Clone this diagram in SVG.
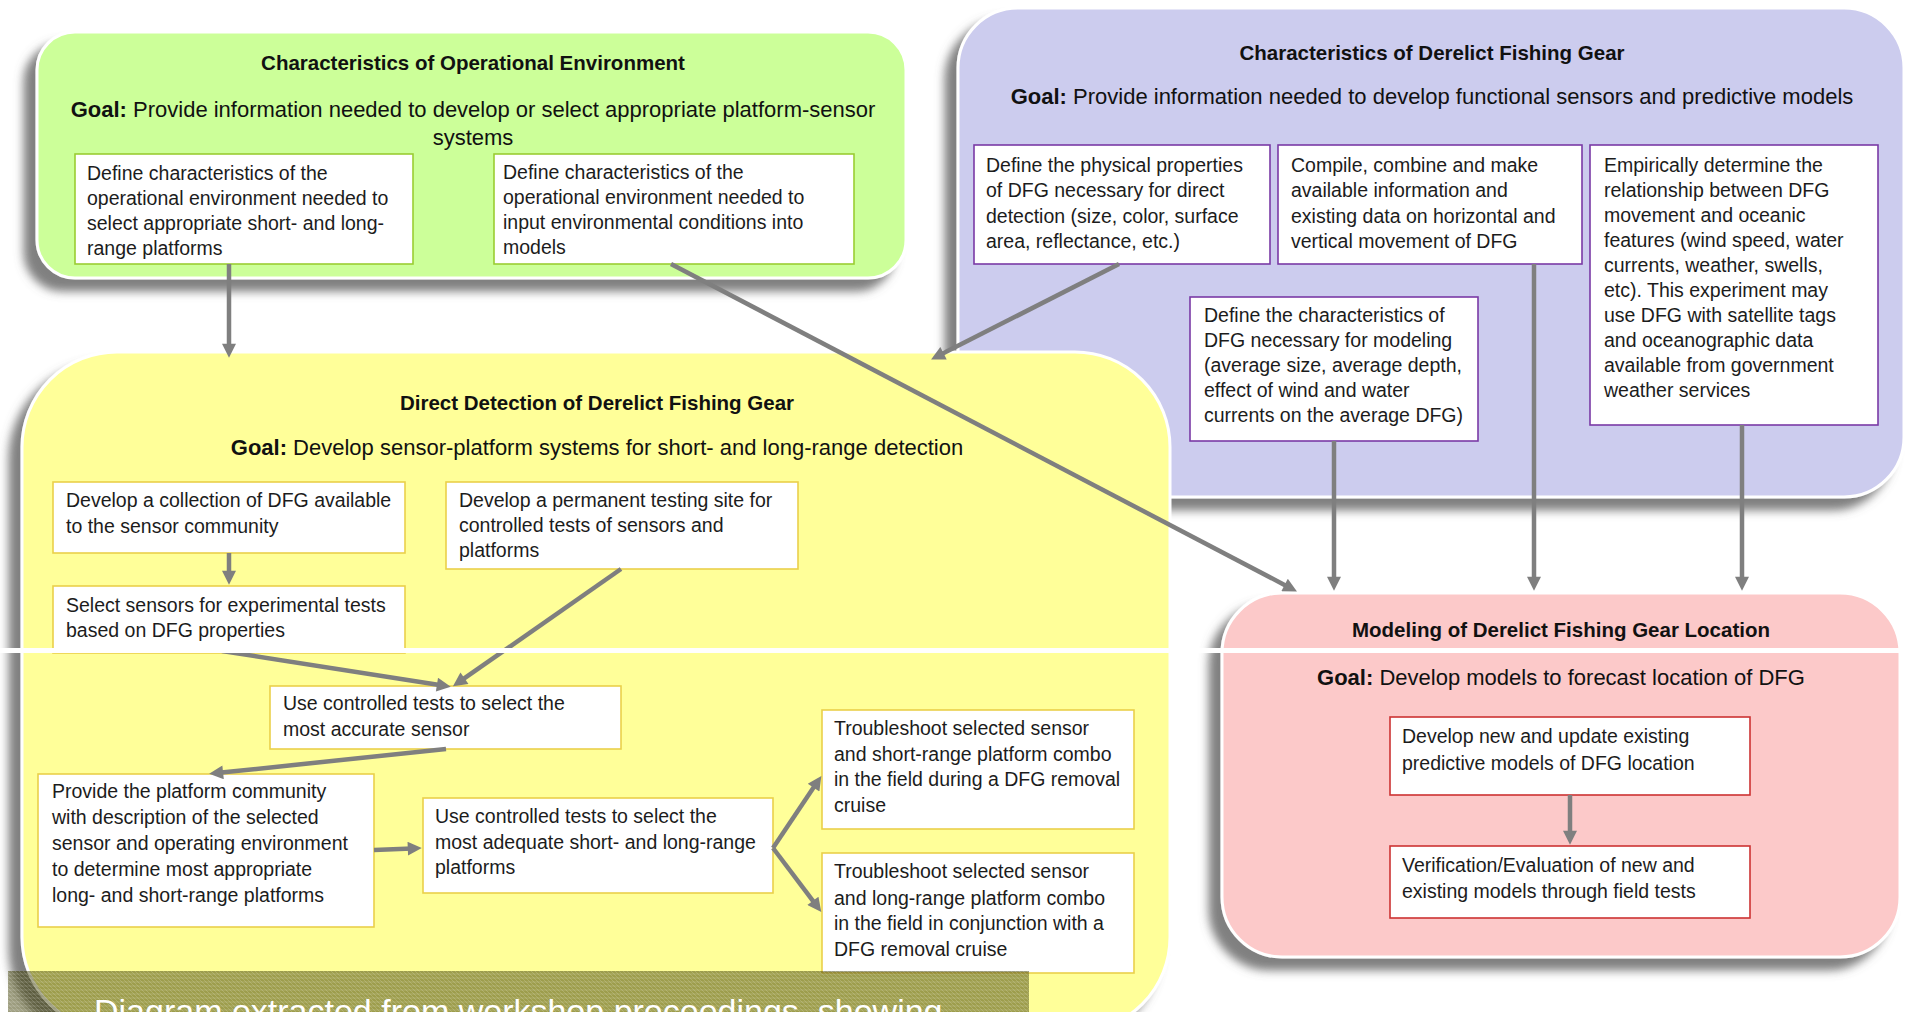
<svg xmlns="http://www.w3.org/2000/svg" width="1908" height="1012" viewBox="0 0 1908 1012">
<defs>
<style>
.t{font-family:"Liberation Sans",Arial,sans-serif;fill:#111}
.title{font-size:20.5px;font-weight:bold;text-anchor:middle}
.goal{font-size:22px;text-anchor:middle}
.b{font-weight:bold}
.body{font-size:19.5px;fill:#1c1c1c}
.panel{stroke:#fff;stroke-width:3;filter:url(#sh)}
.box{fill:#fff;stroke-width:1.6}
.gb{stroke:#9acd32}
.pb{stroke:#7a3aa6}
.yb{stroke:#ead04a}
.rb{stroke:#cc3333}
#connectors line{stroke:#7f7f7f;stroke-width:4.5;marker-end:url(#ah)}
</style>
<filter id="sh" x="-10%" y="-10%" width="125%" height="130%">
<feGaussianBlur in="SourceAlpha" stdDeviation="5"/>
<feOffset dx="-12" dy="12" result="o"/>
<feFlood flood-color="#6a6a6a" flood-opacity="0.85"/>
<feComposite in2="o" operator="in"/>
<feMerge><feMergeNode/><feMergeNode in="SourceGraphic"/></feMerge>
</filter>
<marker id="ah" viewBox="0 0 10 10" refX="3" refY="5" markerWidth="16" markerHeight="14" markerUnits="userSpaceOnUse" orient="auto">
<path d="M0,0 L10,5 L0,10 z" fill="#7f7f7f"/>
</marker>
<pattern id="hatch" width="4" height="4" patternUnits="userSpaceOnUse">
<rect width="4" height="4" fill="#3c3c00" fill-opacity="0.5"/>
<path d="M0,0 L4,4 M0,2 L4,2" stroke="#ffffff" stroke-opacity="0.16" stroke-width="1"/>
</pattern>
</defs>
<rect width="1908" height="1012" fill="#fff"/>

<g id="panel-environment">
<rect class="panel" x="37" y="32" width="869" height="246" rx="38" fill="#ccff99"/>
<text class="t title" x="473" y="70">Characteristics of Operational Environment</text>
<text class="t goal" x="473" y="117"><tspan class="b">Goal:</tspan> Provide information needed to develop or select appropriate platform-sensor</text>
<text class="t goal" x="473" y="145">systems</text>
</g>
<g id="node-env-platforms">
<rect class="box gb" x="75" y="154" width="338" height="110"/>
<text class="t body"><tspan x="87" y="180">Define characteristics of the</tspan><tspan x="87" y="205">operational environment needed to</tspan><tspan x="87" y="230">select appropriate short- and long-</tspan><tspan x="87" y="255">range platforms</tspan></text>
</g>
<g id="node-env-models">
<rect class="box gb" x="494" y="154" width="360" height="110"/>
<text class="t body"><tspan x="503" y="179">Define characteristics of the</tspan><tspan x="503" y="204">operational environment needed to</tspan><tspan x="503" y="229">input environmental conditions into</tspan><tspan x="503" y="254">models</tspan></text>
</g>

<g id="panel-dfg">
<rect class="panel" x="958" y="8" width="946" height="489" rx="60" fill="#ccccee"/>
<text class="t title" x="1432" y="60">Characteristics of Derelict Fishing Gear</text>
<text class="t goal" x="1432" y="104"><tspan class="b">Goal:</tspan> Provide information needed to develop functional sensors and predictive models</text>
</g>
<g id="node-physical">
<rect class="box pb" x="974" y="145" width="296" height="119"/>
<text class="t body"><tspan x="986" y="172">Define the physical properties</tspan><tspan x="986" y="197">of DFG necessary  for direct</tspan><tspan x="986" y="223">detection (size, color, surface</tspan><tspan x="986" y="248">area, reflectance,  etc.)</tspan></text>
</g>
<g id="node-compile">
<rect class="box pb" x="1278" y="145" width="304" height="119"/>
<text class="t body"><tspan x="1291" y="172">Compile, combine and make</tspan><tspan x="1291" y="197">available information and</tspan><tspan x="1291" y="223">existing data on horizontal and</tspan><tspan x="1291" y="248">vertical movement of DFG</tspan></text>
</g>
<g id="node-empirical">
<rect class="box pb" x="1590" y="145" width="288" height="280"/>
<text class="t body"><tspan x="1604" y="172">Empirically determine the</tspan><tspan x="1604" y="197">relationship between DFG</tspan><tspan x="1604" y="222">movement and oceanic</tspan><tspan x="1604" y="247">features (wind speed, water</tspan><tspan x="1604" y="272">currents, weather, swells,</tspan><tspan x="1604" y="297">etc).  This experiment may</tspan><tspan x="1604" y="322">use DFG with satellite tags</tspan><tspan x="1604" y="347">and oceanographic data</tspan><tspan x="1604" y="372">available from government</tspan><tspan x="1604" y="397">weather services</tspan></text>
</g>
<g id="node-modeling-chars">
<rect class="box pb" x="1190" y="297" width="288" height="144"/>
<text class="t body"><tspan x="1204" y="322">Define the characteristics of</tspan><tspan x="1204" y="347">DFG necessary  for modeling</tspan><tspan x="1204" y="372">(average size, average depth,</tspan><tspan x="1204" y="397">effect of wind and water</tspan><tspan x="1204" y="422">currents on the average DFG)</tspan></text>
</g>

<g id="panel-detection">
<rect class="panel" x="22" y="352" width="1148" height="680" rx="95" fill="#ffff99"/>
<text class="t title" x="597" y="410">Direct Detection of Derelict Fishing Gear</text>
<text class="t goal" x="597" y="455"><tspan class="b">Goal:</tspan> Develop sensor-platform systems for short- and long-range detection</text>
</g>
<g id="node-collection">
<rect class="box yb" x="53" y="482" width="352" height="71"/>
<text class="t body"><tspan x="66" y="507">Develop a collection of DFG available</tspan><tspan x="66" y="533">to the sensor community</tspan></text>
</g>
<g id="node-testing-site">
<rect class="box yb" x="446" y="482" width="352" height="87"/>
<text class="t body"><tspan x="459" y="507">Develop a permanent testing site for</tspan><tspan x="459" y="532">controlled tests of sensors and</tspan><tspan x="459" y="557">platforms</tspan></text>
</g>
<g id="node-select-sensors">
<rect class="box yb" x="53" y="586" width="352" height="67"/>
<text class="t body"><tspan x="66" y="612">Select sensors for experimental tests</tspan><tspan x="66" y="637">based on DFG properties</tspan></text>
</g>
<g id="node-accurate-sensor">
<rect class="box yb" x="270" y="686" width="351" height="63"/>
<text class="t body"><tspan x="283" y="710">Use controlled tests to select the</tspan><tspan x="283" y="736">most accurate sensor</tspan></text>
</g>
<g id="node-provide">
<rect class="box yb" x="38" y="774" width="336" height="153"/>
<text class="t body"><tspan x="52" y="798">Provide the platform community</tspan><tspan x="52" y="824">with description of the selected</tspan><tspan x="52" y="850">sensor and operating environment</tspan><tspan x="52" y="876">to determine most appropriate</tspan><tspan x="52" y="902">long- and short-range platforms</tspan></text>
</g>
<g id="node-adequate-platforms">
<rect class="box yb" x="423" y="798" width="350" height="95"/>
<text class="t body"><tspan x="435" y="823">Use controlled tests to select the</tspan><tspan x="435" y="849">most adequate short- and long-range</tspan><tspan x="435" y="874">platforms</tspan></text>
</g>
<g id="node-short-range">
<rect class="box yb" x="822" y="710" width="312" height="119"/>
<text class="t body"><tspan x="834" y="735">Troubleshoot selected  sensor</tspan><tspan x="834" y="761">and short-range  platform combo</tspan><tspan x="834" y="786">in the field during a DFG removal</tspan><tspan x="834" y="812">cruise</tspan></text>
</g>
<g id="node-long-range">
<rect class="box yb" x="822" y="853" width="312" height="120"/>
<text class="t body"><tspan x="834" y="878">Troubleshoot selected  sensor</tspan><tspan x="834" y="905">and long-range platform combo</tspan><tspan x="834" y="930">in the field in conjunction with a</tspan><tspan x="834" y="956">DFG removal cruise</tspan></text>
</g>

<g id="panel-location">
<rect class="panel" x="1222" y="593" width="678" height="364" rx="60" fill="#fcc9c9"/>
<text class="t title" x="1561" y="637">Modeling of Derelict Fishing Gear Location</text>
<text class="t goal" x="1561" y="685"><tspan class="b">Goal:</tspan> Develop models to forecast location  of DFG</text>
</g>
<g id="node-develop-models">
<rect class="box rb" x="1390" y="717" width="360" height="78"/>
<text class="t body"><tspan x="1402" y="743">Develop new and update existing</tspan><tspan x="1402" y="770">predictive models of DFG location</tspan></text>
</g>
<g id="node-verification">
<rect class="box rb" x="1390" y="846" width="360" height="72"/>
<text class="t body"><tspan x="1402" y="872">Verification/Evaluation of new and</tspan><tspan x="1402" y="898">existing models through field tests</tspan></text>
</g>

<g id="connectors">
<line x1="229" y1="264" x2="229" y2="348"/>
<line x1="671" y1="264" x2="1288.3" y2="586.9"/>
<line x1="1119" y1="264" x2="939.8" y2="355.1"/>
<line x1="1334" y1="441" x2="1334" y2="581"/>
<line x1="1534" y1="264" x2="1534" y2="581"/>
<line x1="1742" y1="425" x2="1742" y2="581"/>
<line x1="229" y1="553" x2="229" y2="575"/>
<line x1="222" y1="651" x2="441.1" y2="685.3"/>
<line x1="621" y1="569" x2="461" y2="680.7"/>
<line x1="446" y1="749" x2="218.9" y2="772.85"/>
<line x1="374" y1="850" x2="412" y2="848.45"/>
<line x1="773" y1="848" x2="815.9" y2="784.1"/>
<line x1="773" y1="848" x2="815.4" y2="904.2"/>
<line x1="1570" y1="795" x2="1570" y2="835"/>
</g>

<rect x="0" y="648" width="1908" height="5" fill="#fff"/>
<g id="caption">
<rect x="8" y="971" width="1021" height="41" fill="url(#hatch)"/>
<text x="94" y="1023" font-family="Liberation Sans, Arial, sans-serif" font-size="34" fill="#fff">Diagram extracted from workshop proceedings, showing</text>
</g>
</svg>
